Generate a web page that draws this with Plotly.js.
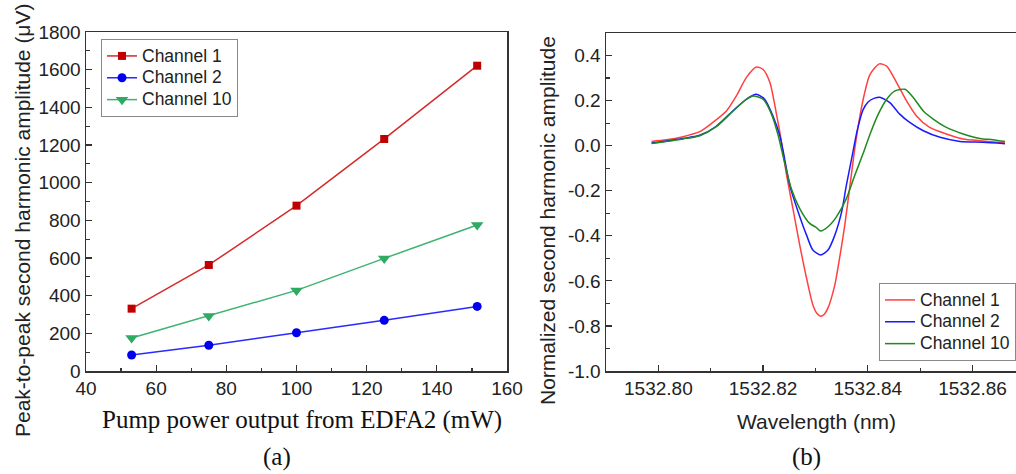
<!DOCTYPE html>
<html>
<head>
<meta charset="utf-8">
<script src="https://cdn.plot.ly/plotly-3.0.1.min.js"></script>
<style>html,body{margin:0;padding:0;background:#fff;}#chart{width:1016px;height:474px;}</style>
</head>
<body>
<div id="chart"></div>
<script>
// ---- Panel (a) data ----
const pumpPower = [53, 75, 100, 125, 151.5];
const ampCh1 = [331, 563, 878, 1232, 1621];
const ampCh2 = [85, 137, 203, 269, 343];
const ampCh10 = [175, 292, 428, 598, 775];

// ---- Panel (b) data ----
const wlCh1 = [1532.7987,1532.8015,1532.8047,1532.8079,1532.8104,1532.8130,1532.8149,1532.8168,1532.8187,1532.8200,1532.8213,1532.8225,1532.8232,1532.8245,1532.8257,1532.8270,1532.8283,1532.8295,1532.8303,1532.8310,1532.8317,1532.8324,1532.8337,1532.8346,1532.8356,1532.8366,1532.8375,1532.8385,1532.8393,1532.8404,1532.8422,1532.8436,1532.8455,1532.8474,1532.8493,1532.8518,1532.8550,1532.8582,1532.8614,1532.8662];
const nCh1 = [0.019,0.026,0.040,0.062,0.103,0.154,0.221,0.302,0.349,0.338,0.280,0.147,0.059,-0.132,-0.279,-0.441,-0.588,-0.706,-0.745,-0.757,-0.748,-0.720,-0.618,-0.500,-0.353,-0.176,-0.015,0.132,0.225,0.315,0.363,0.353,0.280,0.199,0.132,0.081,0.052,0.030,0.022,0.012];

const wlCh2 = [1532.7987,1532.8047,1532.8079,1532.8110,1532.8142,1532.8168,1532.8187,1532.8203,1532.8219,1532.8232,1532.8238,1532.8251,1532.8267,1532.8283,1532.8295,1532.8310,1532.8324,1532.8337,1532.8350,1532.8359,1532.8369,1532.8380,1532.8391,1532.8401,1532.8413,1532.8423,1532.8442,1532.8461,1532.8480,1532.8506,1532.8538,1532.8576,1532.8620,1532.8662];
const nCh2 = [0.012,0.032,0.046,0.085,0.154,0.206,0.228,0.206,0.130,0.044,-0.020,-0.176,-0.294,-0.397,-0.463,-0.485,-0.463,-0.397,-0.294,-0.176,-0.059,0.070,0.160,0.195,0.211,0.215,0.191,0.140,0.103,0.066,0.037,0.019,0.015,0.009];

const wlCh10 = [1532.7987,1532.8047,1532.8079,1532.8110,1532.8142,1532.8168,1532.8181,1532.8200,1532.8216,1532.8229,1532.8238,1532.8254,1532.8270,1532.8289,1532.8301,1532.8310,1532.8324,1532.8340,1532.8359,1532.8375,1532.8391,1532.8404,1532.8420,1532.8436,1532.8452,1532.8471,1532.8487,1532.8506,1532.8525,1532.8550,1532.8582,1532.8614,1532.8639,1532.8662];
const nCh10 = [0.010,0.030,0.044,0.083,0.152,0.205,0.220,0.206,0.140,0.044,-0.045,-0.191,-0.279,-0.345,-0.362,-0.379,-0.360,-0.316,-0.235,-0.132,-0.035,0.050,0.140,0.206,0.243,0.250,0.213,0.154,0.118,0.081,0.052,0.032,0.026,0.018];

const seriesNames = ["Channel 1", "Channel 2", "Channel 10"];
const yTickValsB = [-1.0,-0.8,-0.6,-0.4,-0.2,0.0,0.2,0.4];
const yTickTextB = ["-1.0","-0.8","-0.6","-0.4","-0.2","0.0","0.2","0.4"];
const xTickValsB = [1532.80,1532.82,1532.84,1532.86];
const xTickTextB = ["1532.80","1532.82","1532.84","1532.86"];

const SANS = "Liberation Sans, Arial, sans-serif";
const SERIF = "Liberation Serif, Times New Roman, serif";
const legName = n => '<span style="font-size:17.5px">' + n + '</span>';

const traces = [
  {x: pumpPower, y: ampCh1, name: legName(seriesNames[0]), mode: "lines+markers", xaxis: "x", yaxis: "y", legend: "legend",
   line: {color: "#d42a2a", width: 1.5}, marker: {symbol: "square", size: 8, color: "#c00000"}},
  {x: pumpPower, y: ampCh2, name: legName(seriesNames[1]), mode: "lines+markers", xaxis: "x", yaxis: "y", legend: "legend",
   line: {color: "#2a2aff", width: 1.5}, marker: {symbol: "circle", size: 9, color: "#0000ee"}},
  {x: pumpPower, y: ampCh10, name: legName(seriesNames[2]), mode: "lines+markers", xaxis: "x", yaxis: "y", legend: "legend",
   line: {color: "#3cb371", width: 1.5}, marker: {symbol: "triangle-down", size: 11, color: "#2eaa62"}},
  {x: wlCh1, y: nCh1, name: legName(seriesNames[0]), mode: "lines", xaxis: "x2", yaxis: "y2", legend: "legend2",
   line: {color: "#ff4040", width: 1.5, shape: "spline", smoothing: 0.7}},
  {x: wlCh2, y: nCh2, name: legName(seriesNames[1]), mode: "lines", xaxis: "x2", yaxis: "y2", legend: "legend2",
   line: {color: "#1a1aff", width: 1.5, shape: "spline", smoothing: 0.7}},
  {x: wlCh10, y: nCh10, name: legName(seriesNames[2]), mode: "lines", xaxis: "x2", yaxis: "y2", legend: "legend2",
   line: {color: "#1f8a1f", width: 1.5, shape: "spline", smoothing: 0.7}}
];

const W = 1016, H = 474;
const px = v => v / W;
const py = v => 1 - v / H;

const axisCommon = {
  showline: true, mirror: true, linecolor: "#333", linewidth: 1.5,
  ticks: "inside", ticklen: 6, tickwidth: 1.2, tickcolor: "#333",
  showgrid: false, zeroline: false,
  tickfont: {family: SANS, size: 19, color: "#222"},
  minor: {ticks: "inside", ticklen: 3.5, tickwidth: 1.2, tickcolor: "#333", showgrid: false}
};

const legendCommon = {xanchor: "left", yanchor: "top", bgcolor: "#fff", bordercolor: "#888", borderwidth: 1,
  font: {family: SANS, size: 14.5, color: "#222"}, itemwidth: 30, tracegroupgap: 0};

const layout = {
  width: W, height: H,
  margin: {l: 0, r: 0, t: 0, b: 0},
  paper_bgcolor: "#fff", plot_bgcolor: "#fff",
  showlegend: true,
  xaxis: Object.assign({}, axisCommon, {domain: [px(86), px(507)], range: [40, 160], dtick: 20, tick0: 40,
    minor: Object.assign({}, axisCommon.minor, {dtick: 10}), anchor: "y"}),
  yaxis: Object.assign({}, axisCommon, {domain: [py(371), py(32)], range: [0, 1800], dtick: 200, tick0: 0,
    minor: Object.assign({}, axisCommon.minor, {dtick: 100}), anchor: "x"}),
  xaxis2: Object.assign({}, axisCommon, {domain: [px(606), 1], range: [1532.790, 1532.8683],
    tickvals: xTickValsB, ticktext: xTickTextB,
    minor: Object.assign({}, axisCommon.minor, {dtick: 0.01, tick0: 1532.80}), anchor: "y2"}),
  yaxis2: Object.assign({}, axisCommon, {domain: [py(371), py(33)], range: [-1.0, 0.5],
    tickvals: yTickValsB, ticktext: yTickTextB,
    minor: Object.assign({}, axisCommon.minor, {dtick: 0.1, tick0: 0}), anchor: "x2"}),
  legend: Object.assign({}, legendCommon, {x: px(101), y: py(39)}),
  legend2: Object.assign({}, legendCommon, {x: px(879), y: py(283)}),
  annotations: [
    {text: "Peak-to-peak second harmonic amplitude (μV)", xref: "paper", yref: "paper",
     x: px(23), y: py(221), textangle: -90, showarrow: false, xanchor: "center", yanchor: "middle",
     font: {family: SANS, size: 21, color: "#222"}},
    {text: "Pump power output from EDFA2 (mW)", xref: "paper", yref: "paper",
     x: px(302), y: py(420), showarrow: false, xanchor: "center", yanchor: "middle",
     font: {family: SERIF, size: 25, color: "#111"}},
    {text: "(a)", xref: "paper", yref: "paper",
     x: px(277), y: py(457), showarrow: false, xanchor: "center", yanchor: "middle",
     font: {family: SERIF, size: 25, color: "#111"}},
    {text: "Normalized second harmonic amplitude", xref: "paper", yref: "paper",
     x: px(548), y: py(221), textangle: -90, showarrow: false, xanchor: "center", yanchor: "middle",
     font: {family: SANS, size: 21, color: "#222"}},
    {text: "Wavelength (nm)", xref: "paper", yref: "paper",
     x: px(816), y: py(421), showarrow: false, xanchor: "center", yanchor: "middle",
     font: {family: SANS, size: 21, color: "#222"}},
    {text: "(b)", xref: "paper", yref: "paper",
     x: px(806), y: py(457), showarrow: false, xanchor: "center", yanchor: "middle",
     font: {family: SERIF, size: 25, color: "#111"}}
  ]
};

Plotly.newPlot("chart", traces, layout, {staticPlot: true, displayModeBar: false});
</script>
</body>
</html>
